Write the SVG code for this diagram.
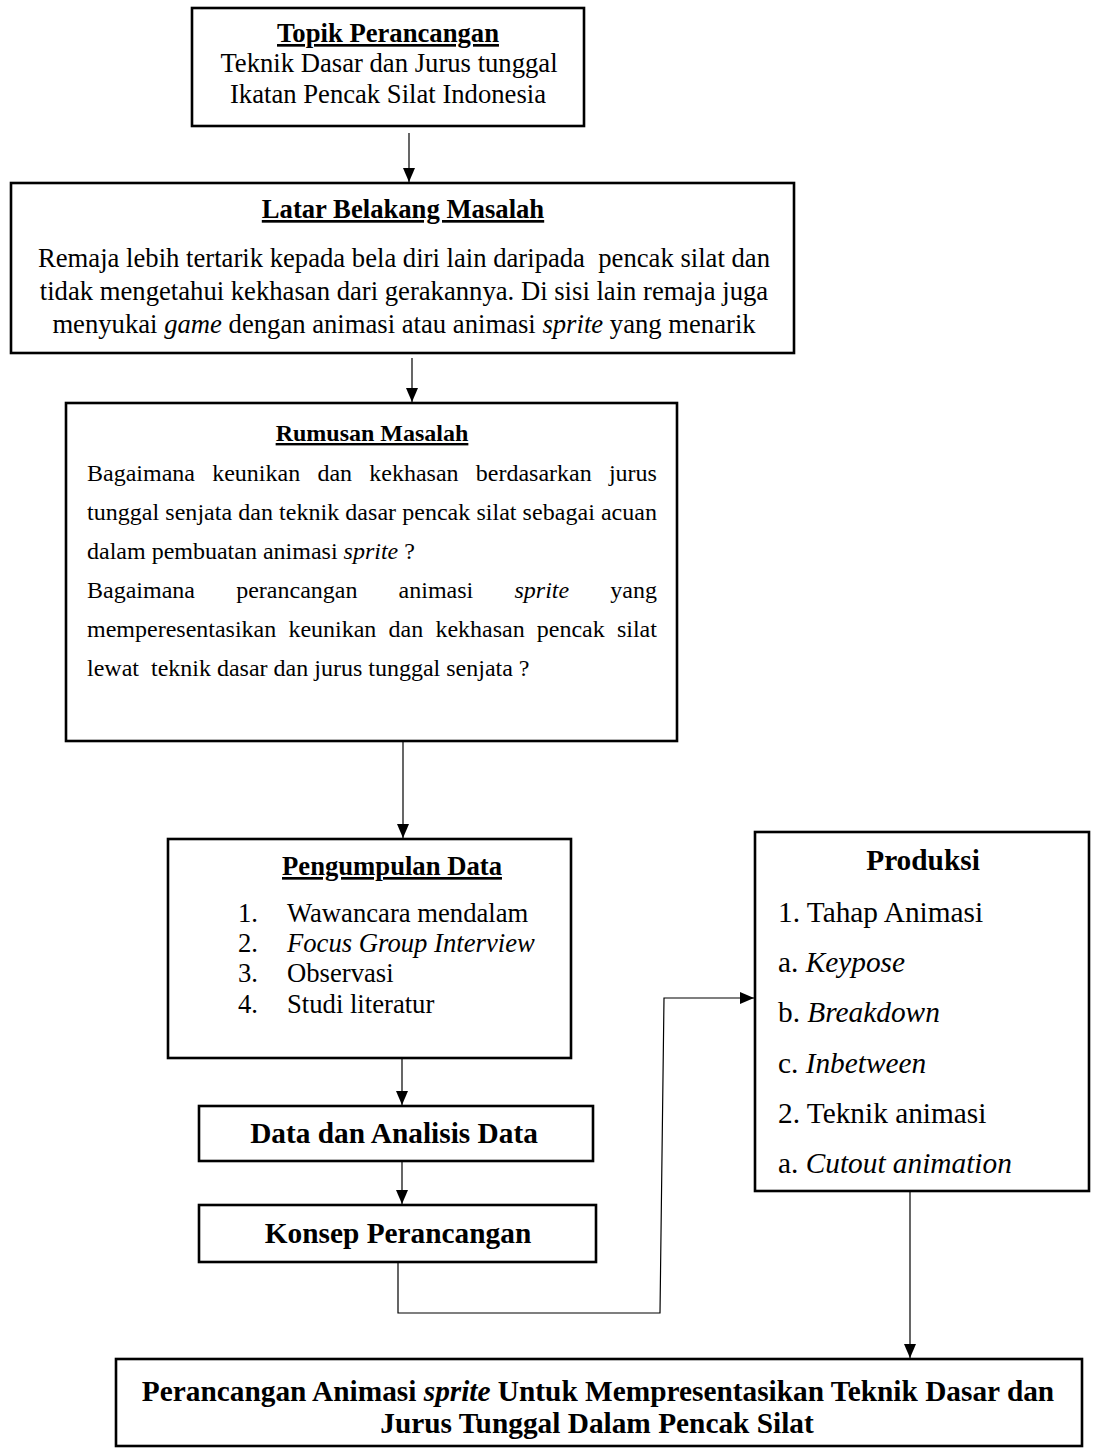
<svg xmlns="http://www.w3.org/2000/svg" width="1097" height="1449" viewBox="0 0 1097 1449">
<style>
text{font-family:"Liberation Serif","Times New Roman",serif;fill:#000}
.box{fill:#fff;stroke:#000;stroke-width:2.6}
.con{fill:none;stroke:#000;stroke-width:1.2}
.t26{font-size:26.67px}
.t24{font-size:24px}
.t29{font-size:29.33px}
.b{font-weight:bold}
.u{text-decoration:underline}
.i{font-style:italic}
.c{text-anchor:middle}
</style>
<defs>
<marker id="ah" markerUnits="userSpaceOnUse" markerWidth="14" markerHeight="14" viewBox="0 0 14 12" refX="14" refY="6" orient="auto">
<path d="M0,0 L14,6 L0,12 z" fill="#000"/>
</marker>
</defs>
<rect width="1097" height="1449" fill="#fff"/>
<g id="connectors">
<line class="con" x1="409" y1="133" x2="409" y2="182" marker-end="url(#ah)"/>
<line class="con" x1="412" y1="358" x2="412" y2="402" marker-end="url(#ah)"/>
<line class="con" x1="403" y1="742" x2="403" y2="838" marker-end="url(#ah)"/>
<line class="con" x1="402" y1="1059" x2="402" y2="1105" marker-end="url(#ah)"/>
<line class="con" x1="402" y1="1162" x2="402" y2="1204" marker-end="url(#ah)"/>
<polyline class="con" points="398,1263 398,1313 660,1313 664,998 754,998" marker-end="url(#ah)"/>
<line class="con" x1="910" y1="1192" x2="910" y2="1358" marker-end="url(#ah)"/>
</g>
<g id="topik">
<rect class="box" x="192" y="8" width="392" height="118"/>
<text class="t26 b u c" x="388" y="42">Topik Perancangan</text>
<text class="t26 c" x="389" y="72">Teknik Dasar dan Jurus tunggal</text>
<text class="t26 c" x="388" y="103">Ikatan Pencak Silat Indonesia</text>
</g>
<g id="latar">
<rect class="box" x="11" y="183" width="783" height="170"/>
<text class="t26 b u c" x="403" y="218">Latar Belakang Masalah</text>
<text class="t26 c" x="404" y="267" xml:space="preserve">Remaja lebih tertarik kepada bela diri lain daripada  pencak silat dan</text>
<text class="t26 c" x="404" y="300">tidak mengetahui kekhasan dari gerakannya. Di sisi lain remaja juga</text>
<text class="t26 c" x="404" y="333">menyukai <tspan class="i">game</tspan> dengan animasi atau animasi <tspan class="i">sprite</tspan> yang menarik</text>
</g>
<g id="rumusan">
<rect class="box" x="66" y="403" width="611" height="338"/>
<text class="t24 b u c" x="372" y="441">Rumusan Masalah</text>
<text class="t24" y="481"><tspan x="87">Bagaimana</tspan><tspan x="212.2">keunikan</tspan><tspan x="317.4">dan</tspan><tspan x="369.3">kekhasan</tspan><tspan x="475.8">berdasarkan</tspan><tspan x="608.9">jurus</tspan></text>
<text class="t24" x="87" y="520" textLength="570" lengthAdjust="spacing">tunggal senjata dan teknik dasar pencak silat sebagai acuan</text>
<text class="t24" x="87" y="559">dalam pembuatan animasi <tspan class="i">sprite</tspan> ?</text>
<text class="t24" y="598"><tspan x="87">Bagaimana</tspan><tspan x="236.2">perancangan</tspan><tspan x="398.6">animasi</tspan><tspan x="514.5" class="i">sprite</tspan><tspan x="610.3">yang</tspan></text>
<text class="t24" y="637"><tspan x="87">memperesentasikan</tspan><tspan x="288.4">keunikan</tspan><tspan x="388.6">dan</tspan><tspan x="435.4">kekhasan</tspan><tspan x="536.8">pencak</tspan><tspan x="616.9">silat</tspan></text>
<text class="t24" x="87" y="676" xml:space="preserve">lewat  teknik dasar dan jurus tunggal senjata ?</text>
</g>
<g id="pengumpulan">
<rect class="box" x="168" y="839" width="403" height="219"/>
<text class="t26 b u c" x="392" y="875">Pengumpulan Data</text>
<text class="t26" x="238" y="922">1.</text><text class="t26" x="287" y="922">Wawancara mendalam</text>
<text class="t26" x="238" y="952">2.</text><text class="t26 i" x="287" y="952">Focus Group Interview</text>
<text class="t26" x="238" y="982">3.</text><text class="t26" x="287" y="982">Observasi</text>
<text class="t26" x="238" y="1013">4.</text><text class="t26" x="287" y="1013">Studi literatur</text>
</g>
<g id="data">
<rect class="box" x="199" y="1106" width="394" height="55"/>
<text class="t29 b c" x="394" y="1143">Data dan Analisis Data</text>
</g>
<g id="konsep">
<rect class="box" x="199" y="1205" width="397" height="57"/>
<text class="t29 b c" x="398" y="1243">Konsep Perancangan</text>
</g>
<g id="produksi">
<rect class="box" x="755" y="832" width="334" height="359"/>
<text class="t29 b c" x="923" y="870">Produksi</text>
<text class="t29" x="778" y="922">1. Tahap Animasi</text>
<text class="t29" x="778" y="972">a. <tspan class="i">Keypose</tspan></text>
<text class="t29" x="778" y="1022">b. <tspan class="i">Breakdown</tspan></text>
<text class="t29" x="778" y="1073">c. <tspan class="i">Inbetween</tspan></text>
<text class="t29" x="778" y="1123">2. Teknik animasi</text>
<text class="t29" x="778" y="1173">a. <tspan class="i">Cutout animation</tspan></text>
</g>
<g id="hasil">
<rect class="box" x="116" y="1359" width="966" height="87"/>
<text class="t29 b c" x="598" y="1401">Perancangan Animasi <tspan class="i">sprite</tspan> Untuk Mempresentasikan Teknik Dasar dan</text>
<text class="t29 b c" x="597" y="1433">Jurus Tunggal Dalam Pencak Silat</text>
</g>
</svg>
